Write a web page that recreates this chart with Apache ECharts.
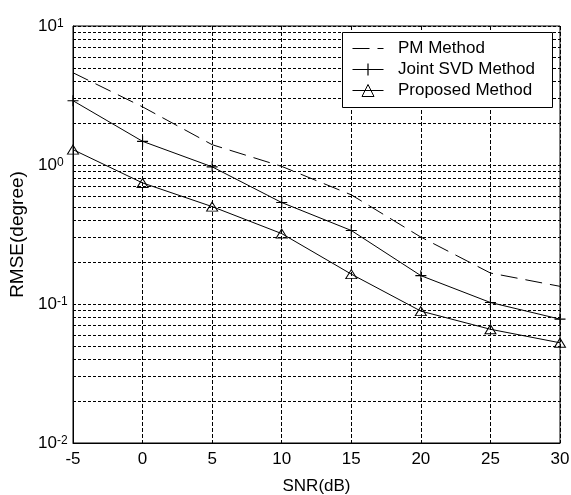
<!DOCTYPE html>
<html>
<head>
<meta charset="utf-8">
<script src="https://cdn.jsdelivr.net/npm/echarts@6/dist/echarts.min.js"></script>
<style>
  html, body { margin: 0; padding: 0; background: #fff; }
  #chart { width: 571px; height: 495px; }
</style>
</head>
<body>
<div id="chart"></div>
<script>
// SNR sweep (dB) and RMSE (degrees) for the three estimators
const snr = [-5, 0, 5, 10, 15, 20, 25, 30];
const pmMethod = [4.61, 2.62, 1.40, 0.977, 0.61, 0.303, 0.167, 0.134];
const jointSvd = [2.90, 1.48, 0.97, 0.537, 0.338, 0.160, 0.1025, 0.0778];
const proposed = [1.29, 0.743, 0.502, 0.321, 0.164, 0.0889, 0.0658, 0.0526];
const seriesNames = ['PM Method', 'Joint SVD Method', 'Proposed Method'];
const xTicks = [-5, 0, 5, 10, 15, 20, 25, 30];
const yDecades = [0.01, 0.1, 1, 10];

// log-scale minor grid values: 2..9 within each decade
const minorGrid = [];
for (let d = 0; d < yDecades.length - 1; d++) {
  for (let k = 2; k <= 9; k++) minorGrid.push(+(k * yDecades[d]).toPrecision(3));
}

const font = 'Liberation Sans, Arial, sans-serif';
const pair = (ys) => snr.map((x, i) => [x, ys[i]]);
const plusSymbol = 'path://M0,4.5H10V5.5H0Z M4.5,0H5.5V10H4.5Z';
// legend key for the dashed curve: long dash, gap, short dash
const dashKey = 'path://M0,7H17V8H0Z M25,7H31V8H25Z';

const chart = echarts.init(document.getElementById('chart'), null, { renderer: 'canvas' });
chart.setOption({
  backgroundColor: '#fff',
  animation: false,
  textStyle: { fontFamily: font, color: '#000' },
  grid: {
    left: 73, right: 11, top: 26, bottom: 52,
    outerBoundsMode: 'none', containLabel: false,
    show: true, borderColor: '#000', borderWidth: 1, backgroundColor: '#fff'
  },
  graphic: [{
    type: 'rect',
    z: 90,
    shape: { x: 342.5, y: 32.5, width: 210, height: 75 },
    style: { fill: '#fff', stroke: '#000', lineWidth: 1 },
    silent: true
  }],
  legend: {
    z: 100,
    orient: 'vertical',
    left: 352,
    top: 40,
    padding: 0,
    itemWidth: 31,
    itemHeight: 15,
    itemGap: 4,
    lineStyle: { width: 1 },
    itemStyle: { borderWidth: 1 },
    data: [
      { name: seriesNames[0], icon: dashKey },
      { name: seriesNames[1] },
      { name: seriesNames[2] }
    ],
    formatter: (name) => '  ' + name,
    textStyle: { fontFamily: font, fontSize: 17, color: '#000', lineHeight: 17 }
  },
  xAxis: {
    type: 'value',
    min: xTicks[0],
    max: xTicks[xTicks.length - 1],
    interval: 5,
    name: 'SNR(dB)',
    nameLocation: 'middle',
    nameGap: 35,
    nameTextStyle: { fontFamily: font, fontSize: 17, color: '#000' },
    axisLine: { onZero: false, lineStyle: { color: '#000', width: 1 } },
    axisTick: { show: false },
    axisLabel: { margin: 8, fontFamily: font, fontSize: 17, color: '#000' },
    splitLine: { show: true, lineStyle: { color: '#000', width: 1, type: [4, 2] } }
  },
  yAxis: {
    type: 'log',
    logBase: 10,
    min: yDecades[0],
    max: yDecades[yDecades.length - 1],
    name: 'RMSE(degree)',
    nameLocation: 'middle',
    nameGap: 37,
    nameTextStyle: { fontFamily: font, fontSize: 19, color: '#000' },
    axisLine: { show: true, onZero: false, lineStyle: { color: '#000', width: 1 } },
    axisTick: { show: false },
    axisLabel: {
      margin: 35,
      align: 'left',
      formatter: (v) => '{b|10}{s|' + Math.round(Math.log10(v)) + '}',
      rich: {
        b: { fontFamily: font, fontSize: 17, color: '#000', lineHeight: 17, padding: [10, 0, 10, 0] },
        s: { fontFamily: font, fontSize: 12, color: '#000', lineHeight: 12, verticalAlign: 'top' }
      }
    },
    splitLine: { show: true, lineStyle: { color: '#000', width: 1, type: [3, 2] } }
  },
  series: [
    {
      name: seriesNames[0],
      type: 'line',
      data: pair(pmMethod),
      showSymbol: false,
      symbol: 'none',
      lineStyle: { color: '#000', width: 1, type: [17, 8] },
      itemStyle: { color: '#000' },
      z: 3,
      markLine: {
        silent: true,
        symbol: 'none',
        label: { show: false },
        animation: false,
        z: 3,
        lineStyle: { color: '#000', width: 1, type: [3, 2] },
        data: minorGrid.map((v) => ({ yAxis: v }))
      }
    },
    {
      name: seriesNames[1],
      type: 'line',
      data: pair(jointSvd),
      symbol: plusSymbol,
      symbolSize: 11,
      lineStyle: { color: '#000', width: 1 },
      itemStyle: { color: '#000' },
      z: 4
    },
    {
      name: seriesNames[2],
      type: 'line',
      data: pair(proposed),
      symbol: 'triangle',
      symbolSize: [11, 9],
      lineStyle: { color: '#000', width: 1 },
      itemStyle: { color: 'rgba(255,255,255,0)', borderColor: '#000', borderWidth: 1 },
      z: 5
    }
  ]
});
</script>
</body>
</html>
